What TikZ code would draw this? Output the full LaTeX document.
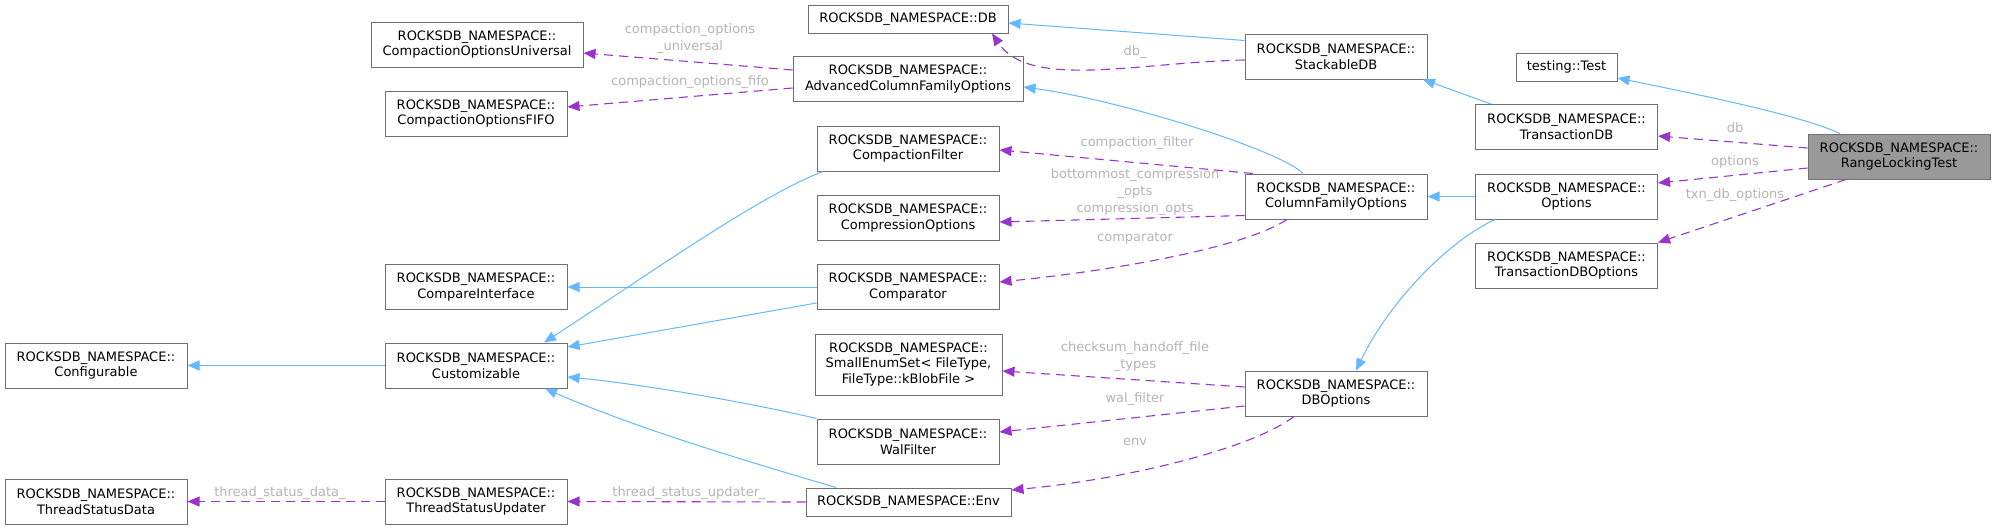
\documentclass[tikz,border=0pt]{standalone}
\usepackage{fontspec}
\setmainfont{DejaVu Sans}
\usepackage{xcolor}
\usetikzlibrary{arrows.meta}
\definecolor{inhblue}{HTML}{63B8FF}
\definecolor{usepurple}{HTML}{9A32CD}
\definecolor{lblgray}{HTML}{B4B4B4}
\definecolor{boxgray}{HTML}{707070}
\definecolor{mainfill}{HTML}{999999}
\begin{document}
\begin{tikzpicture}[x=0.5pt,y=-0.5pt,
  clsbox/.style={draw=boxgray,line width=0.5pt,fill=white,align=center,inner sep=0pt,minimum width=91pt,minimum height=22.5pt,font=\fontsize{6.5}{7.9}\selectfont},
  onebox/.style={clsbox,minimum height=14pt},
  inhline/.style={draw=inhblue,line width=0.5pt,-{Triangle[length=6pt,width=5pt]}},
  useline/.style={draw=usepurple,line width=0.55pt,dash pattern=on 4.5pt off 3pt,-{Triangle[length=6pt,width=5pt]}},
  elabel/.style={text=lblgray,align=center,inner sep=0pt,font=\fontsize{6.5}{8.5}\selectfont}]
\useasboundingbox (0,0) rectangle (1995,530);
\node[clsbox] (cfgable) at (96,365.5) {ROCKSDB\_NAMESPACE::\\Configurable};
\node[clsbox] (tsdata) at (96,501.5) {ROCKSDB\_NAMESPACE::\\ThreadStatusData};
\node[clsbox,minimum width=106pt] (copuniv) at (477,44.5) {ROCKSDB\_NAMESPACE::\\CompactionOptionsUniversal};
\node[clsbox] (copfifo) at (476,113.5) {ROCKSDB\_NAMESPACE::\\CompactionOptionsFIFO};
\node[clsbox] (cmpiface) at (476,287) {ROCKSDB\_NAMESPACE::\\CompareInterface};
\node[clsbox] (custom) at (476,365.5) {ROCKSDB\_NAMESPACE::\\Customizable};
\node[clsbox] (tsupd) at (476,501.5) {ROCKSDB\_NAMESPACE::\\ThreadStatusUpdater};
\node[onebox,minimum width=100pt] (db) at (908,19) {ROCKSDB\_NAMESPACE::DB};
\node[clsbox,minimum width=115pt] (acfo) at (908,79) {ROCKSDB\_NAMESPACE::\\AdvancedColumnFamilyOptions};
\node[clsbox] (cfilter) at (908,148.5) {ROCKSDB\_NAMESPACE::\\CompactionFilter};
\node[clsbox] (compopts) at (908,218) {ROCKSDB\_NAMESPACE::\\CompressionOptions};
\node[clsbox] (comparator) at (908,287) {ROCKSDB\_NAMESPACE::\\Comparator};
\node[clsbox,minimum width=93.5pt,minimum height=30.5pt] (smallenum) at (908.5,364.5) {ROCKSDB\_NAMESPACE::\\SmallEnumSet< FileType,\\FileType::kBlobFile >};
\node[clsbox] (walfilter) at (908,441.5) {ROCKSDB\_NAMESPACE::\\WalFilter};
\node[onebox,minimum width=102.5pt] (env) at (908.5,502) {ROCKSDB\_NAMESPACE::Env};
\node[clsbox] (stackdb) at (1336,56.5) {ROCKSDB\_NAMESPACE::\\StackableDB};
\node[clsbox] (cfopts) at (1336,196.5) {ROCKSDB\_NAMESPACE::\\ColumnFamilyOptions};
\node[clsbox] (dbopts) at (1336,393.5) {ROCKSDB\_NAMESPACE::\\DBOptions};
\node[onebox,minimum width=50.5pt] (test) at (1566.5,67) {testing::Test};
\node[clsbox] (txndb) at (1566.5,127) {ROCKSDB\_NAMESPACE::\\TransactionDB};
\node[clsbox] (options) at (1566.5,196.5) {ROCKSDB\_NAMESPACE::\\Options};
\node[clsbox] (txnopts) at (1566.5,265.5) {ROCKSDB\_NAMESPACE::\\TransactionDBOptions};
\node[clsbox,fill=mainfill] (rlt) at (1899,156.5) {ROCKSDB\_NAMESPACE::\\RangeLockingTest};
\draw[inhline] ([yshift=8pt]stackdb.west) -- ([yshift=-2pt]db.east);
\draw[inhline] ([xshift=-16.5pt]cfopts.north) .. controls (1280,150) and (1120,100) .. ([yshift=-4pt]acfo.east);
\draw[inhline] (options.west) -- (cfopts.east);
\draw[inhline] ([xshift=-35.75pt]options.south) .. controls (1450,240) and (1390,300) .. ([xshift=10pt]dbopts.north);
\draw[inhline] ([xshift=-29.5pt]rlt.north) .. controls (1800,115) and (1700,95) .. ([yshift=-5.5pt]test.east);
\draw[inhline] ([xshift=-37.75pt]txndb.north) -- ([xshift=43.5pt]stackdb.south);
\draw[inhline] (custom.west) -- (cfgable.east);
\draw[inhline] (comparator.west) -- (cmpiface.east);
\draw[inhline] ([yshift=-8pt]comparator.west) -- ([yshift=9.25pt]custom.east);
\draw[inhline] ([xshift=-42.5pt]cfilter.south) .. controls (760,195) and (640,280) .. ([xshift=34pt]custom.north);
\draw[inhline] (walfilter.north west) .. controls (760,405) and (650,385) .. ([yshift=-5.75pt]custom.east);
\draw[inhline] ([xshift=-36.25pt]env.north) .. controls (760,465) and (640,430) .. ([xshift=34.5pt]custom.south);
\draw[useline] ([yshift=-1.75pt]stackdb.west) .. controls (1140,62) and (1030,90) .. ([xshift=42pt]db.south);
\draw[useline] ([yshift=4.5pt]acfo.west) -- ([yshift=-4.25pt]copuniv.east);
\draw[useline] ([yshift=-4.5pt]acfo.west) -- ([yshift=3.25pt]copfifo.east);
\draw[useline] ([xshift=-41.5pt]cfopts.north) -- ([yshift=-0.75pt]cfilter.east);
\draw[useline] ([yshift=-9.5pt]cfopts.west) -- ([yshift=-2pt]compopts.east);
\draw[useline] ([xshift=-24.5pt]cfopts.south) .. controls (1240,250) and (1100,272) .. ([yshift=2.5pt]comparator.east);
\draw[useline] ([yshift=4.25pt]rlt.west) -- ([yshift=-4.5pt]txndb.east);
\draw[useline] ([yshift=-5.75pt]rlt.west) -- ([yshift=6.75pt]options.east);
\draw[useline] ([xshift=-26.5pt]rlt.south) -- (txnopts.north east);
\draw[useline] ([yshift=3.25pt]dbopts.west) -- ([yshift=-3.25pt]smallenum.east);
\draw[useline] ([yshift=-6.25pt]dbopts.west) -- ([yshift=4.75pt]walfilter.east);
\draw[useline] ([xshift=-21pt]dbopts.south) .. controls (1250,450) and (1120,480) .. ([yshift=6pt]env.east);
\draw[useline] (env.west) -- (tsupd.east);
\draw[useline] (tsupd.west) -- (tsdata.east);
\node[elabel] (l-cuniv) at (690,38.5) {compaction\_options\\\_universal};
\node[elabel] (l-cfifo) at (690,82) {compaction\_options\_fifo};
\node[elabel] (l-stackdb) at (1135,52) {db\_};
\node[elabel] (l-cfilter) at (1137,143) {compaction\_filter};
\node[elabel] (l-compopts) at (1135,192) {bottommost\_compression\\\_opts\\compression\_opts};
\node[elabel] (l-comparator) at (1135,238) {comparator};
\node[elabel] (l-cksum) at (1135,357) {checksum\_handoff\_file\\\_types};
\node[elabel] (l-wal) at (1135,399) {wal\_filter};
\node[elabel] (l-env) at (1135,442) {env};
\node[elabel] (l-tsupd) at (689,493) {thread\_status\_updater\_};
\node[elabel] (l-tsdata) at (280,493) {thread\_status\_data\_};
\node[elabel] (l-txndb) at (1735,128) {db};
\node[elabel] (l-options) at (1735,162) {options};
\node[elabel] (l-txnopts) at (1735,195) {txn\_db\_options};
\end{tikzpicture}
\end{document}
